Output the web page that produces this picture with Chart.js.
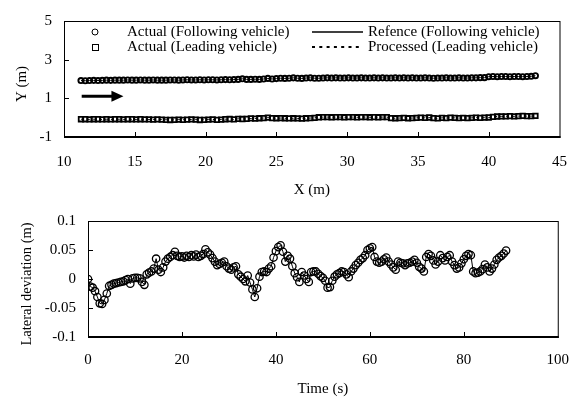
<!DOCTYPE html>
<html>
<head>
<meta charset="utf-8">
<script src="https://cdn.jsdelivr.net/npm/chart.js@4"></script>
<style>
body { margin: 0; background: #fff; }
#wrap { position: relative; width: 583px; height: 401px; }
canvas { position: absolute; left: 0; }
#topChart { top: 0; }
#bottomChart { top: 200px; }
</style>
</head>
<body>
<div id="wrap">
<canvas id="topChart" width="583" height="200"></canvas>
<canvas id="bottomChart" width="583" height="201"></canvas>
</div>
<script>
// top plot: trajectories (m)
const posX = [
    11.2, 11.5, 11.8, 12.1, 12.4, 12.7, 13.0, 13.3, 13.6, 13.9,
    14.2, 14.5, 14.8, 15.1, 15.4, 15.7, 16.0, 16.3, 16.6, 16.9,
    17.2, 17.5, 17.8, 18.1, 18.4, 18.7, 19.0, 19.3, 19.6, 19.9,
    20.2, 20.5, 20.8, 21.1, 21.4, 21.7, 22.0, 22.3, 22.6, 22.9,
    23.2, 23.5, 23.8, 24.1, 24.4, 24.7, 25.0, 25.3, 25.6, 25.9,
    26.2, 26.5, 26.8, 27.1, 27.4, 27.7, 28.0, 28.3, 28.6, 28.9,
    29.2, 29.5, 29.8, 30.1, 30.4, 30.7, 31.0, 31.3, 31.6, 31.9,
    32.2, 32.5, 32.8, 33.1, 33.4, 33.7, 34.0, 34.3, 34.6, 34.9,
    35.2, 35.5, 35.8, 36.1, 36.4, 36.7, 37.0, 37.3, 37.6, 37.9,
    38.2, 38.5, 38.8, 39.1, 39.4, 39.7, 40.0, 40.3, 40.6, 40.9,
    41.2, 41.5, 41.8, 42.1, 42.4, 42.7, 43.0, 43.3
];
const followY = [
    1.92, 1.91, 1.92, 1.93, 1.92, 1.93, 1.94, 1.93, 1.94, 1.94,
    1.94, 1.95, 1.94, 1.94, 1.95, 1.94, 1.94, 1.95, 1.94, 1.94,
    1.94, 1.95, 1.95, 1.94, 1.95, 1.96, 1.95, 1.95, 1.96, 1.95,
    1.96, 1.96, 1.95, 1.96, 1.97, 1.96, 1.97, 1.98, 2.01, 1.98,
    1.98, 1.99, 1.98, 2.00, 2.03, 2.00, 2.02, 2.04, 2.03, 2.04,
    2.06, 2.04, 2.03, 2.05, 2.06, 2.04, 2.04, 2.05, 2.06, 2.05,
    2.06, 2.05, 2.05, 2.06, 2.05, 2.05, 2.06, 2.05, 2.05, 2.06,
    2.05, 2.06, 2.05, 2.05, 2.06, 2.05, 2.06, 2.05, 2.06, 2.05,
    2.05, 2.06, 2.05, 2.04, 2.05, 2.05, 2.06, 2.05, 2.05, 2.06,
    2.05, 2.05, 2.06, 2.06, 2.07, 2.07, 2.12, 2.13, 2.12, 2.13,
    2.13, 2.12, 2.13, 2.13, 2.12, 2.13, 2.14, 2.17
];
const leadY = [
    -0.08, -0.08, -0.09, -0.08, -0.08, -0.09, -0.08, -0.09, -0.08, -0.08,
    -0.09, -0.08, -0.08, -0.09, -0.08, -0.09, -0.09, -0.10, -0.09, -0.10,
    -0.11, -0.12, -0.11, -0.10, -0.11, -0.10, -0.09, -0.10, -0.12, -0.11,
    -0.10, -0.09, -0.11, -0.10, -0.08, -0.07, -0.09, -0.06, -0.07, -0.06,
    -0.04, -0.05, -0.03, -0.02, 0.00, -0.02, -0.03, -0.02, -0.03, -0.04,
    -0.03, -0.04, -0.05, -0.03, -0.02, -0.01, 0.02, 0.03, 0.03, 0.02,
    0.03, 0.03, 0.02, 0.03, 0.03, 0.02, 0.03, 0.03, 0.02, 0.03,
    0.02, 0.03, 0.03, -0.02, -0.03, -0.02, -0.01, -0.03, -0.02, -0.01,
    0.00, -0.01, 0.01, -0.02, -0.04, -0.01, -0.02, 0.00, -0.01, -0.02,
    -0.01, -0.02, -0.01, 0.00, -0.01, 0.00, 0.01, 0.04, 0.06, 0.07,
    0.07, 0.08, 0.07, 0.08, 0.09, 0.08, 0.08, 0.09
];
const topLabels = [
    "Actual (Following vehicle)",
    "Actual (Leading vehicle)",
    "Refence (Following vehicle)",
    "Processed (Leading vehicle)"
];
// driving direction arrow, in data units
const arrowX = [11.25, 14.2];
const arrowY = 1.11;

// bottom plot: lateral deviation vs time
const timeS = [
    0, 0.5, 1, 1.5, 2, 2.5, 3, 3.5, 4, 4.5,
    5, 5.5, 6, 6.5, 7, 7.5, 8, 8.5, 9, 9.5,
    10, 10.5, 11, 11.5, 12, 12.5, 13, 13.5, 14, 14.5,
    15, 15.5, 16, 16.5, 17, 17.5, 18, 18.5, 19, 19.5,
    20, 20.5, 21, 21.5, 22, 22.5, 23, 23.5, 24, 24.5,
    25, 25.5, 26, 26.5, 27, 27.5, 28, 28.5, 29, 29.5,
    30, 30.5, 31, 31.5, 32, 32.5, 33, 33.5, 34, 34.5,
    35, 35.5, 36, 36.5, 37, 37.5, 38, 38.5, 39, 39.5,
    40, 40.5, 41, 41.5, 42, 42.5, 43, 43.5, 44, 44.5,
    45, 45.5, 46, 46.5, 47, 47.5, 48, 48.5, 49, 49.5,
    50, 50.5, 51, 51.5, 52, 52.5, 53, 53.5, 54, 54.5,
    55, 55.5, 56, 56.5, 57, 57.5, 58, 58.5, 59, 59.5,
    60, 60.5, 61, 61.5, 62, 62.5, 63, 63.5, 64, 64.5,
    65, 65.5, 66, 66.5, 67, 67.5, 68, 68.5, 69, 69.5,
    70, 70.5, 71, 71.5, 72, 72.5, 73, 73.5, 74, 74.5,
    75, 75.5, 76, 76.5, 77, 77.5, 78, 78.5, 79, 79.5,
    80, 80.5, 81, 81.5, 82, 82.5, 83, 83.5, 84, 84.5,
    85, 85.5, 86, 86.5, 87, 87.5, 88, 88.5, 89
];
const deviation = [
    0.000, -0.013, -0.015, -0.021, -0.031, -0.042, -0.043, -0.036, -0.025, -0.012,
    -0.010, -0.008, -0.007, -0.006, -0.005, -0.004, -0.002, 0.000, -0.008, 0.001,
    0.002, 0.002, 0.001, -0.005, -0.010, 0.008, 0.011, 0.013, 0.018, 0.035,
    0.016, 0.012, 0.020, 0.030, 0.035, 0.038, 0.041, 0.047, 0.040, 0.038,
    0.039, 0.037, 0.040, 0.038, 0.041, 0.039, 0.042, 0.038, 0.040, 0.043,
    0.051, 0.046, 0.042, 0.036, 0.030, 0.024, 0.026, 0.028, 0.030, 0.022,
    0.018, 0.016, 0.020, 0.022, 0.008, 0.004, 0.000, -0.004, 0.006, -0.006,
    -0.018, -0.031, -0.016, 0.004, 0.012, 0.013, 0.012, 0.018, 0.022, 0.037,
    0.048, 0.055, 0.058, 0.047, 0.030, 0.040, 0.035, 0.022, 0.010, 0.003,
    -0.005, 0.012, 0.006, 0.000, -0.005, 0.012, 0.013, 0.013, 0.009, 0.005,
    0.002, -0.003, -0.015, -0.014, -0.003, 0.004, 0.008, 0.010, 0.013, 0.012,
    0.008, 0.003, 0.013, 0.018, 0.024, 0.028, 0.033, 0.036, 0.041, 0.050,
    0.053, 0.055, 0.038, 0.030, 0.028, 0.030, 0.034, 0.037, 0.030, 0.025,
    0.020, 0.016, 0.030, 0.028, 0.027, 0.024, 0.027, 0.028, 0.030, 0.033,
    0.028, 0.021, 0.018, 0.013, 0.038, 0.043, 0.040, 0.032, 0.025, 0.030,
    0.041, 0.036, 0.032, 0.038, 0.041, 0.030, 0.024, 0.018, 0.020, 0.027,
    0.034, 0.040, 0.043, 0.041, 0.013, 0.010, 0.011, 0.013, 0.017, 0.025,
    0.020, 0.013, 0.018, 0.025, 0.033, 0.037, 0.040, 0.044, 0.049
];

const FONT = "'Liberation Serif', 'Times New Roman', serif";
Chart.defaults.font.family = FONT;
Chart.defaults.font.size = 15;
Chart.defaults.color = "#000";

function toPoints(xs, ys){
    let pts = [];
    for(let i = 0; i < xs.length; i++){
        pts.push({x: xs[i], y: ys[i]});
    }
    return pts;
}

// box around plot area, inward tick marks, rotated y title
const framePlugin = {
    id: "frame",
    afterDraw(chart, args, opts){
        const ctx = chart.ctx;
        const a = chart.chartArea;
        const sx = chart.scales.x, sy = chart.scales.y;
        ctx.save();
        ctx.strokeStyle = "#000";
        ctx.lineWidth = 1;
        ctx.strokeRect(a.left + 0.5, a.top + 0.5, a.right - a.left, a.bottom - a.top);
        ctx.lineWidth = 2;
        ctx.beginPath();
        ctx.moveTo(a.left, a.bottom);
        ctx.lineTo(a.right + 1, a.bottom);
        ctx.stroke();
        ctx.lineWidth = 1;
        ctx.beginPath();
        sx.ticks.forEach(function(t, i){
            if(i == 0 || i == sx.ticks.length - 1) return;
            let px = Math.round(sx.getPixelForValue(t.value)) + 0.5;
            ctx.moveTo(px, a.bottom);
            ctx.lineTo(px, a.bottom - 5);
        });
        sy.ticks.forEach(function(t, i){
            if(i == 0 || i == sy.ticks.length - 1) return;
            let py = Math.round(sy.getPixelForValue(t.value)) + 0.5;
            ctx.moveTo(a.left, py);
            ctx.lineTo(a.left + 5, py);
        });
        ctx.stroke();

        // y axis title, sits a little below the middle like the original
        ctx.fillStyle = "#000";
        ctx.font = opts.size + "px " + FONT;
        ctx.textAlign = "center";
        ctx.textBaseline = "middle";
        ctx.translate(opts.x, (a.top + a.bottom) / 2 + 5);
        ctx.rotate(-Math.PI / 2);
        ctx.fillText(opts.text, 0, 0);
        ctx.restore();
    }
};

// legend (two columns) and direction arrow for the top plot
const topExtras = {
    id: "topExtras",
    afterDraw(chart){
        const ctx = chart.ctx;
        const sx = chart.scales.x, sy = chart.scales.y;
        const ds = chart.data.datasets;
        ctx.save();
        ctx.strokeStyle = "#000";
        ctx.fillStyle = "#000";
        ctx.font = "15px " + FONT;
        ctx.textBaseline = "middle";

        // arrow
        let x0 = sx.getPixelForValue(arrowX[0]);
        let x1 = sx.getPixelForValue(arrowX[1]);
        let y0 = sy.getPixelForValue(arrowY);
        ctx.lineWidth = 3;
        ctx.beginPath();
        ctx.moveTo(x0, y0);
        ctx.lineTo(x1 - 8, y0);
        ctx.stroke();
        ctx.beginPath();
        ctx.moveTo(x1, y0);
        ctx.lineTo(x1 - 12, y0 - 5.5);
        ctx.lineTo(x1 - 12, y0 + 5.5);
        ctx.closePath();
        ctx.fill();

        // legend
        ctx.lineWidth = 1;
        ctx.beginPath();
        ctx.arc(95, 32, 3, 0, Math.PI * 2);
        ctx.stroke();
        ctx.strokeRect(92.5, 44.5, 6, 6);
        ctx.fillText(ds[0].label, 127, 32);
        ctx.fillText(ds[1].label, 127, 47);

        ctx.lineWidth = 1.5;
        ctx.beginPath();
        ctx.moveTo(312, 32);
        ctx.lineTo(363, 32);
        ctx.stroke();
        ctx.lineWidth = 2;
        ctx.setLineDash([3, 4.3]);
        ctx.beginPath();
        ctx.moveTo(312, 47);
        ctx.lineTo(363, 47);
        ctx.stroke();
        ctx.setLineDash([]);
        ctx.fillText(ds[2].label, 368, 32);
        ctx.fillText(ds[3].label, 368, 47);
        ctx.restore();
    }
};

function initTopChart(){
    const ctx = document.getElementById("topChart").getContext("2d");
    new Chart(ctx, {
        type: "scatter",
        data: {
            datasets: [{
                label: topLabels[0],
                data: toPoints(posX, followY),
                pointStyle: "circle",
                pointRadius: 2.6,
                borderColor: "#000",
                borderWidth: 1.9,
                backgroundColor: "rgba(0,0,0,0)"
            }, {
                label: topLabels[1],
                data: toPoints(posX, leadY),
                pointStyle: "rect",
                pointRadius: 3.2,
                borderColor: "#000",
                borderWidth: 1.8,
                backgroundColor: "rgba(0,0,0,0)"
            }, {
                label: topLabels[2],
                data: toPoints(posX, followY),
                showLine: true,
                pointRadius: 0,
                borderColor: "#000",
                borderWidth: 1
            }, {
                label: topLabels[3],
                data: toPoints(posX, leadY),
                showLine: true,
                pointRadius: 0,
                borderColor: "#000",
                borderWidth: 1,
                borderDash: [3, 3]
            }]
        },
        options: {
            responsive: false,
            animation: false,
            events: [],
            layout: { padding: { top: 15, right: 14, left: 0, bottom: 0 } },
            plugins: {
                legend: { display: false },
                tooltip: { enabled: false },
                frame: { text: "Y (m)", x: 22, size: 15 }
            },
            scales: {
                x: {
                    type: "linear", min: 10, max: 45,
                    grid: { display: false, drawTicks: false },
                    border: { display: false },
                    ticks: { stepSize: 5, padding: 16, maxRotation: 0 },
                    title: { display: true, text: "X (m)", padding: { top: 0, bottom: 1 } },
                    afterFit: function(s){ s.height = 63; }
                },
                y: {
                    min: -1, max: 5,
                    grid: { display: false, drawTicks: false },
                    border: { display: false },
                    ticks: { stepSize: 2, padding: 12 },
                    afterFit: function(s){ s.width = 64; }
                }
            }
        },
        plugins: [framePlugin, topExtras]
    });
}

function initBottomChart(){
    const ctx = document.getElementById("bottomChart").getContext("2d");
    new Chart(ctx, {
        type: "scatter",
        data: {
            datasets: [{
                label: "Lateral deviation",
                data: toPoints(timeS, deviation),
                showLine: true,
                pointStyle: "circle",
                pointRadius: 3.7,
                borderColor: "#000",
                borderWidth: 1,
                pointBorderWidth: 1.3,
                backgroundColor: "rgba(0,0,0,0)"
            }]
        },
        options: {
            responsive: false,
            animation: false,
            events: [],
            layout: { padding: { top: 18, right: 20, left: 0, bottom: 0 } },
            plugins: {
                legend: { display: false },
                tooltip: { enabled: false },
                frame: { text: "Lateral deviation (m)", x: 27, size: 14.5 }
            },
            scales: {
                x: {
                    type: "linear", min: 0, max: 100,
                    grid: { display: false, drawTicks: false },
                    border: { display: false },
                    ticks: { stepSize: 20, padding: 14, maxRotation: 0 },
                    title: { display: true, text: "Time (s)", padding: { top: 0, bottom: 3 } },
                    afterFit: function(s){ s.height = 64; }
                },
                y: {
                    min: -0.1, max: 0.1,
                    grid: { display: false, drawTicks: false },
                    border: { display: false },
                    ticks: {
                        stepSize: 0.05, padding: 12,
                        callback: function(v){ return String(+v.toFixed(2)); }
                    },
                    afterFit: function(s){ s.width = 88; }
                }
            }
        },
        plugins: [framePlugin]
    });
}

document.addEventListener("DOMContentLoaded", function(){
    initTopChart();
    initBottomChart();
});
</script>
</body>
</html>
